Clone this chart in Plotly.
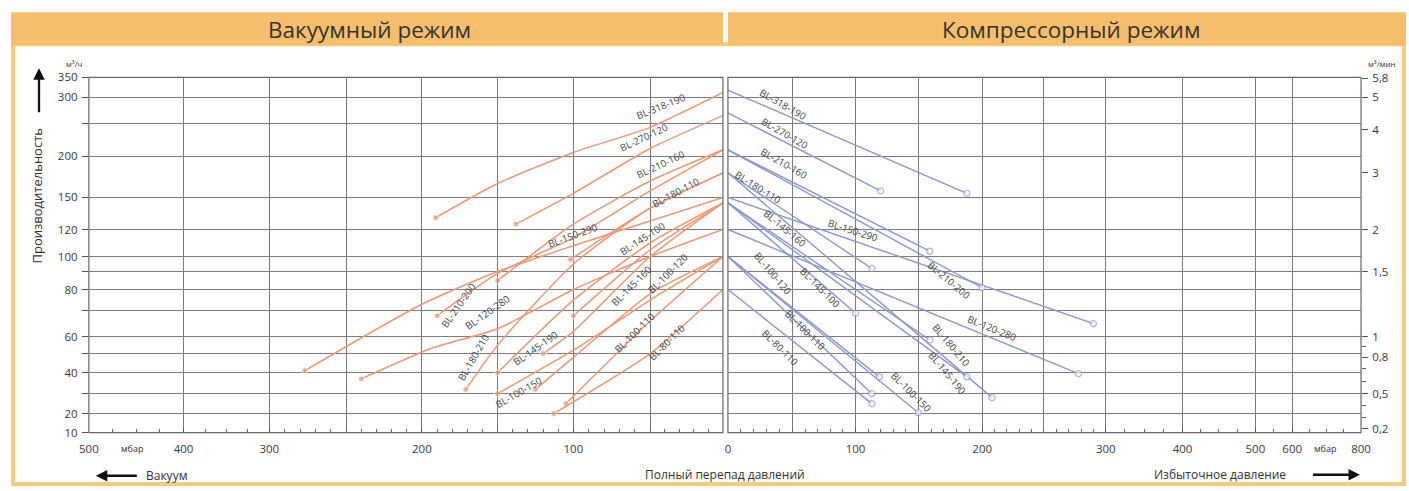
import numpy as np
import plotly.graph_objects as go

W, H = 1409, 491
# the page is shown with an 8px body margin and the resulting page is fitted to the window,
# so layout positions (given in window pixels) are converted accordingly
MARGIN = 8
SX, SY = (W + 2 * MARGIN) / W, (H + 2 * MARGIN) / H

# ---------------- axis scale definitions (the chart uses non-uniform scales) -------------
Y_GRID = [10, 20, 30, 40, 50, 60, 70, 80, 90, 100, 120, 150, 200, 250, 300, 350]
Y_POS = [0, 19, 39, 60, 79, 96, 122, 143, 161, 176, 203, 235, 276, 309, 335, 355]
Y_LABELED = [10, 20, 40, 60, 80, 100, 120, 150, 200, 300, 350]

XL_GRID = [0, 50, 100, 150, 200, 250, 300, 400, 500]
XL_POS = [636, 563, 486, 410, 334, 258, 181, 95, 0]
XL_LABELED = [100, 200, 300, 400, 500]
XL_MINOR = list(range(10, 300, 10)) + [325, 350, 375, 425, 450, 475]

XR_GRID = [0, 50, 100, 150, 200, 250, 300, 400, 500, 600, 800]
XR_POS = [0, 65, 128, 191, 255, 317, 379, 456, 529, 566, 635]
XR_LABELED = [0, 100, 200, 300, 400, 500, 600, 800]
XR_MINOR = list(range(10, 300, 10)) + [325, 350, 375, 425, 450, 475, 550, 650, 700, 750]

# right axis in m3/min
M3MIN_TICKS = [5.8, 5, 4, 3, 2, 1.5, 1, 0.8, 0.5, 0.2]
M3MIN_TEXT = ["5,8", "5", "4", "3", "2", "1,5", "1", "0,8", "0,5", "0,2"]
M3MIN_MINOR = [0.3, 0.4, 0.6, 0.7, 0.9]


def ys(v):
    return np.interp(np.asarray(v, dtype=float), Y_GRID, Y_POS)


def xl(v):
    return np.interp(np.asarray(v, dtype=float), XL_GRID, XL_POS)


def xr(v):
    return np.interp(np.asarray(v, dtype=float), XR_GRID, XR_POS)


# ---------------- data ----------------
MODELS = ["BL-318-190", "BL-270-120", "BL-210-160", "BL-180-110", "BL-150-290",
          "BL-145-100", "BL-145-160", "BL-100-120", "BL-210-200", "BL-120-280",
          "BL-180-210", "BL-145-190", "BL-100-150", "BL-100-110", "BL-80-110"]

# vacuum mode: pressure difference (mbar) and flow (m3/h)
VAC_P = [[191, 150, 100, 50, 0],
         [138, 100, 50, 0],
         [150, 100, 50, 0],
         [102, 50, 0],
         [277, 200, 150, 100, 50, 0],
         [100, 50, 0],
         [120, 100, 50, 0],
         [125, 100, 50, 0],
         [190, 150, 100, 50, 0],
         [240, 194, 150, 100, 50, 0],
         [171, 150, 100, 50, 0],
         [150, 100, 50, 0],
         [150, 100, 50, 0],
         [105, 50, 0],
         [113, 50, 0]]
VAC_Q = [[131, 167, 206, 244, 312],
         [125, 155, 212, 265],
         [85, 125, 170, 210],
         [98, 140, 180],
         [41, 73, 90, 108, 128, 150],
         [68, 105, 145],
         [50, 62, 100, 145],
         [32, 48, 78, 100],
         [68, 89, 114, 158, 210],
         [37, 53, 63, 80, 100, 120],
         [32, 55, 95, 140, 180],
         [40, 75, 110, 145],
         [30, 52, 75, 100],
         [25, 66, 100],
         [20, 50, 80]]

# compressor mode: overpressure (mbar) and flow (m3/h)
COMP_P = [[0, 188], [0, 120], [0, 159], [0, 113], [0, 290],
          [0, 100], [0, 159], [0, 119], [0, 200], [0, 278],
          [0, 208], [0, 188], [0, 150], [0, 113], [0, 113]]
COMP_Q = [[318, 155], [270, 158], [210, 104], [180, 92], [150, 65],
          [145, 69], [145, 58], [100, 38], [210, 81], [120, 39.5],
          [180, 28], [145, 38], [100, 20.5], [100, 30], [80, 25]]

# label placement (mbar, m3/h) and rotation
VAC_LBL = [(42.5, 283), (54, 229), (42.5, 190), (32, 156), (100, 115.6),
           (54.5, 113), (61.7, 82), (37.7, 89), (175.7, 72.4), (156.6, 69.2),
           (165.8, 47.9), (125, 52.9), (136, 30.5), (59.7, 61.5), (38.4, 56.5)]
VAC_ANG = [-22, -25, -25, -28, -20, -33, -45, -45, -55, -35, -60, -35, -30, -45, -45]
COMP_LBL = [(42.3, 286), (43.8, 235), (43, 191), (23, 162), (97.6, 119),
            (71.4, 81), (43.8, 121), (34.6, 89), (174, 85), (208, 63),
            (175.8, 54.7), (172.7, 39.5), (144.4, 30.5), (60, 62.3), (40, 53.5)]
COMP_ANG = [30, 30, 30, 32, 18, 45, 40, 50, 40, 22, 50, 50, 45, 45, 45]

VAC_COLOR = "#EE9774"
COMP_COLOR = "#8A97CC"
GRID = "#7c7c7c"
TXT = "#333333"
FONT = "Open Sans"

fig = go.Figure()

for p, q in zip(VAC_P, VAC_Q):
    n = len(p)
    fig.add_trace(go.Scatter(
        x=xl(p), y=ys(q), mode="lines+markers",
        line=dict(color=VAC_COLOR, width=1.5, shape="spline", smoothing=0.6),
        marker=dict(size=[6] + [0] * (n - 1), color=VAC_COLOR),
        xaxis="x", yaxis="y", showlegend=False, hoverinfo="skip"))

for p, q in zip(COMP_P, COMP_Q):
    n = len(p)
    fig.add_trace(go.Scatter(
        x=xr(p), y=ys(q), mode="lines+markers",
        line=dict(color=COMP_COLOR, width=1.4),
        marker=dict(size=[0] * (n - 1) + [6], color="white", symbol="circle",
                    line=dict(color=COMP_COLOR, width=1.2)),
        xaxis="x2", yaxis="y", showlegend=False, hoverinfo="skip"))

# invisible trace to carry the right-hand axis
fig.add_trace(go.Scatter(x=[0], y=[0], mode="markers", marker=dict(opacity=0),
                         xaxis="x2", yaxis="y2", showlegend=False, hoverinfo="skip"))

LBLFONT = dict(size=9.8, color="#444", family=FONT)
ann = []
for name, (lp, lq), a in zip(MODELS, VAC_LBL, VAC_ANG):
    ann.append(dict(x=float(xl(lp)), y=float(ys(lq)), xref="x", yref="y", text=name,
                    textangle=a, showarrow=False, font=LBLFONT))
for name, (lp, lq), a in zip(MODELS, COMP_LBL, COMP_ANG):
    ann.append(dict(x=float(xr(lp)), y=float(ys(lq)), xref="x2", yref="y", text=name,
                    textangle=a, showarrow=False, font=LBLFONT))


def px(x):
    return (x * SX - MARGIN) / W


def py(y):
    return 1 - (y * SY - MARGIN) / H


def note(x, y, text, size=11, angle=0):
    return dict(x=px(x), y=py(y), xref="paper", yref="paper", text=text, textangle=angle,
                xanchor="center", yanchor="middle", showarrow=False,
                font=dict(size=size, color=TXT, family=FONT))


def arrow(x, y, ax, ay):
    return dict(x=px(x), y=py(y), ax=ax * SX, ay=ay * SY, xref="paper", yref="paper", text="",
                showarrow=True, arrowhead=2, arrowsize=1, arrowwidth=2.3, arrowcolor="#111")


ann += [
    note(368, 29, "Вакуумный режим", 22.5),
    note(1072, 29, "Компрессорный режим", 22.5),
    note(73, 63, "м³/ч", 8),
    note(1384, 63, "м³/мин", 8),
    note(130, 448, "мбар", 9),
    note(1327, 448, "мбар", 9),
    note(35, 196, "Производительность", 13, -90),
    arrow(37, 68, 0, 44),
    note(165, 475, "Вакуум", 12),
    arrow(94, 475, 42, 0),
    note(725, 474, "Полный перепад давлений", 12),
    note(1222, 474, "Избыточное давление", 12),
    arrow(1362, 474, -48, 0),
]

shapes = [
    dict(type="rect", xref="paper", yref="paper", x0=px(11), x1=px(1406), y0=0, y1=py(44),
         line=dict(color="#F6CB80", width=4), fillcolor="rgba(0,0,0,0)", layer="below"),
    dict(type="rect", xref="paper", yref="paper", x0=px(9), x1=px(723), y0=py(45), y1=py(12),
         line=dict(width=0), fillcolor="#F6BE6C", layer="below"),
    dict(type="rect", xref="paper", yref="paper", x0=px(728), x1=px(1408), y0=py(45), y1=py(12),
         line=dict(width=0), fillcolor="#F6BE6C", layer="below"),
    dict(type="rect", xref="x domain", yref="y domain", x0=0, x1=1, y0=0, y1=1,
         line=dict(color="#666", width=1.2), layer="above"),
    dict(type="rect", xref="x2 domain", yref="y domain", x0=0, x1=1, y0=0, y1=1,
         line=dict(color="#666", width=1.2), layer="above"),
]

tickfont = dict(size=11.5, color="#3a3a3a", family=FONT)
ydom = [py(432), py(77)]

fig.update_layout(
    width=W, height=H, autosize=False,
    margin=dict(l=0, r=0, t=0, b=0),
    paper_bgcolor="white", plot_bgcolor="white",
    annotations=ann, shapes=shapes,
    xaxis=dict(domain=[px(87), px(723)], range=[0, 636], anchor="y",
               tickmode="array", tickvals=list(xl(XL_GRID)),
               ticktext=[str(v) if v in XL_LABELED else "" for v in XL_GRID],
               showgrid=True, gridcolor=GRID, gridwidth=1, zeroline=False,
               ticks="inside", ticklen=5, tickcolor="#555", tickfont=tickfont,
               ticklabelstandoff=8, showline=False,
               minor=dict(tickmode="array", tickvals=list(xl(XL_MINOR)), ticks="inside",
                          ticklen=4, tickcolor="#666", showgrid=False)),
    xaxis2=dict(domain=[px(728), px(1363)], range=[0, 635], anchor="y",
                tickmode="array", tickvals=list(xr(XR_GRID)),
                ticktext=[str(v) if v in XR_LABELED else "" for v in XR_GRID],
                showgrid=True, gridcolor=GRID, gridwidth=1, zeroline=False,
                ticks="inside", ticklen=5, tickcolor="#555", tickfont=tickfont,
                ticklabelstandoff=8, showline=False,
                minor=dict(tickmode="array", tickvals=list(xr(XR_MINOR)), ticks="inside",
                           ticklen=4, tickcolor="#666", showgrid=False)),
    yaxis=dict(domain=ydom, range=[0, 355], anchor="x",
               tickmode="array", tickvals=list(ys(Y_GRID)),
               ticktext=[str(v) if v in Y_LABELED else "" for v in Y_GRID],
               showgrid=True, gridcolor=GRID, gridwidth=1, zeroline=False,
               ticks="outside", ticklen=6, tickcolor="#555", tickfont=tickfont,
               ticklabelstandoff=2),
    yaxis2=dict(domain=ydom, range=[0, 355], anchor="x2", overlaying="y", side="right",
                tickmode="array", tickvals=list(ys([v * 60 for v in M3MIN_TICKS])),
                ticktext=M3MIN_TEXT, showgrid=False, zeroline=False,
                ticks="outside", ticklen=6, tickcolor="#555", tickfont=tickfont,
                ticklabelstandoff=2,
                minor=dict(tickmode="array", tickvals=list(ys([v * 60 for v in M3MIN_MINOR])),
                           ticks="outside", ticklen=4, tickcolor="#666", showgrid=False)),
)

fig.write_html("out.html")
